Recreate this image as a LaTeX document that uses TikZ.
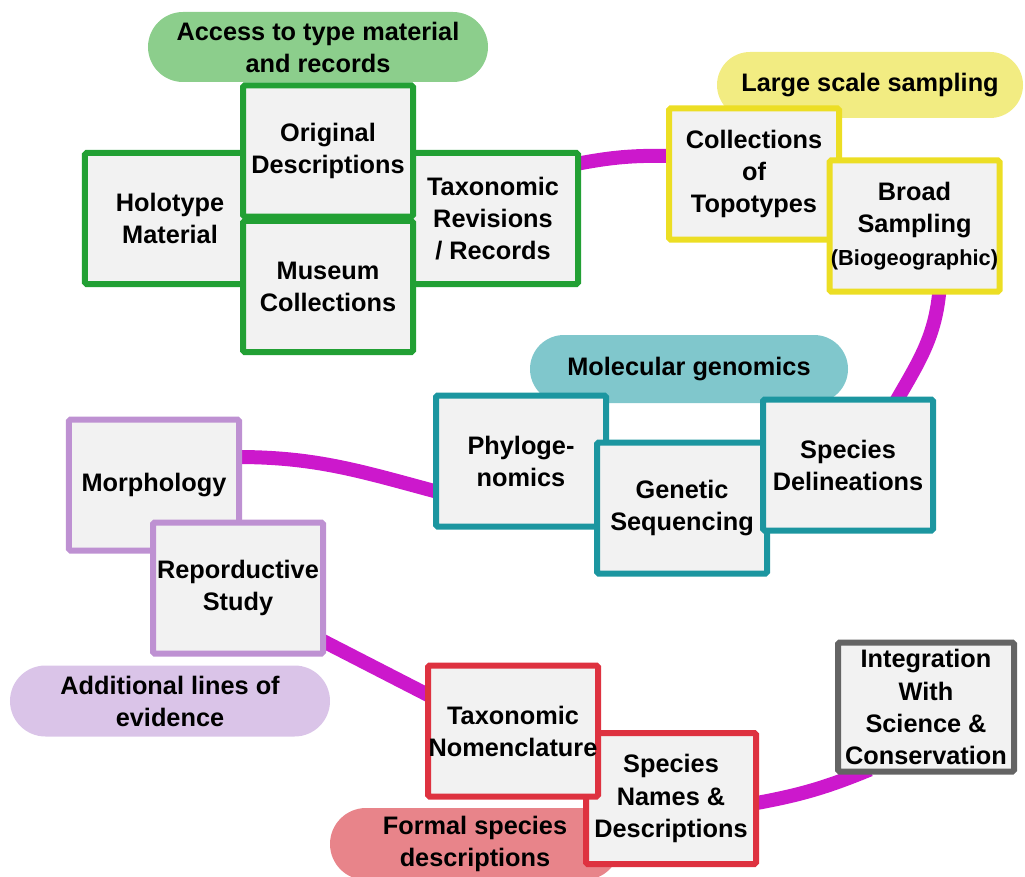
\documentclass[tikz,border=0pt]{standalone}
\usepackage{fontspec}
\setmainfont{Liberation Sans}
\usetikzlibrary{shapes.misc,calc}

\pgfdeclarelayer{back}
\pgfsetlayers{back,main}

% outline / fill colours of the five groups
\definecolor{grnline}{RGB}{34,160,52}
\definecolor{grnfill}{RGB}{140,206,140}
\definecolor{ylwline}{RGB}{236,222,36}
\definecolor{ylwfill}{RGB}{242,236,130}
\definecolor{tealline}{RGB}{28,150,160}
\definecolor{tealfill}{RGB}{128,199,204}
\definecolor{purpline}{RGB}{190,145,210}
\definecolor{purpfill}{RGB}{218,196,232}
\definecolor{redline}{RGB}{222,50,64}
\definecolor{redfill}{RGB}{232,132,138}
\definecolor{grayline}{RGB}{100,100,100}
\definecolor{boxgray}{RGB}{242,242,242}
\definecolor{linkcol}{RGB}{204,24,204}

\tikzset{
  txt/.style={font=\fontsize{18}{22.8}\selectfont\bfseries},
  box/.style={txt,draw=#1,line width=1.5mm,fill=boxgray,rounded corners=0.4mm,
    minimum width=42.5mm,minimum height=32.75mm,inner sep=0pt,align=center},
  pill/.style={txt,rounded rectangle,fill=#1,inner sep=0pt,align=center},
  link/.style={line width=3.5mm,draw=linkcol},
}

\begin{document}
\begin{tikzpicture}[x=0.25mm,y=-0.25mm]
\clip (0,0) rectangle (1025,877);

% group labels
\node[pill=grnfill,minimum width=85mm,minimum height=17.5mm] (access) at (318,47) {Access to type material\\and records};
\node[pill=ylwfill,minimum width=76.5mm,minimum height=16.5mm] (large) at (870,85) {Large scale sampling};
\node[pill=tealfill,minimum width=79.5mm,minimum height=17mm] (molec) at (689,369) {Molecular genomics};
\node[pill=purpfill,minimum width=80mm,minimum height=17.75mm] (addl) at (170,701) {Additional lines of\\evidence};
\node[pill=redfill,minimum width=72.5mm,minimum height=18mm] (formal) at (475,844) {Formal species\\descriptions};

% type material
\node[box=grnline] (holo) at (170,218.5) {Holotype\\Material};
\node[box=grnline] (taxrev) at (493,218.5) {Taxonomic\\Revisions\\/ Records};
\node[box=grnline] (orig) at (328,151) {Original\\Descriptions};
\node[box=grnline] (museum) at (328,286.5) {Museum\\Collections};

% sampling
\node[box=ylwline] (topo) at (754,174) {Collections\\of\\Topotypes};
\node[box=ylwline] (broad) at (914.5,226) {Broad\\Sampling\\[1pt]{\fontsize{15.5}{19}\selectfont(Biogeographic)}};

% genomics
\node[box=tealline] (phylo) at (521,461) {Phyloge-\\nomics};
\node[box=tealline] (genseq) at (682,508) {Genetic\\Sequencing};
\node[box=tealline] (delin) at (848,465) {Species\\Delineations};

% other evidence
\node[box=purpline] (morph) at (154,485) {Morphology};
\node[box=purpline] (repro) at (238,588) {Reporductive\\Study};

% naming (names box sits behind the nomenclature box)
\node[box=redline] (names) at (671,798.5) {Species\\Names \&\\Descriptions};
\node[box=redline] (taxnom) at (513,731) {Taxonomic\\Nomenclature};

\node[box=grayline,minimum width=44mm,minimum height=32.25mm] (integ) at (926,707) {Integration\\With\\Science \&\\Conservation};

% connectors behind the boxes
\begin{pgfonlayer}{back}
\draw[link] ($(taxrev.north east)+(-5,14)$) to[bend left=6] ($(topo.west)+(5,-18)$);
\draw[link] ($(broad.south)+(25,-5)$) to[out=-95,in=60] ($(delin.north)+(48,5)$);
\draw[link] ($(morph.east)+(-5,-28)$) to[out=0,in=165] ($(phylo.west)+(5,31)$);
\draw[link] ($(repro.east)+(-5,52)$) -- ($(taxnom.west)+(5,-35)$);
\draw[link] ($(names.east)+(-5,5)$) to[bend right=6] ($(integ.south west)+(35,-5)$);
\end{pgfonlayer}
\end{tikzpicture}
\end{document}
